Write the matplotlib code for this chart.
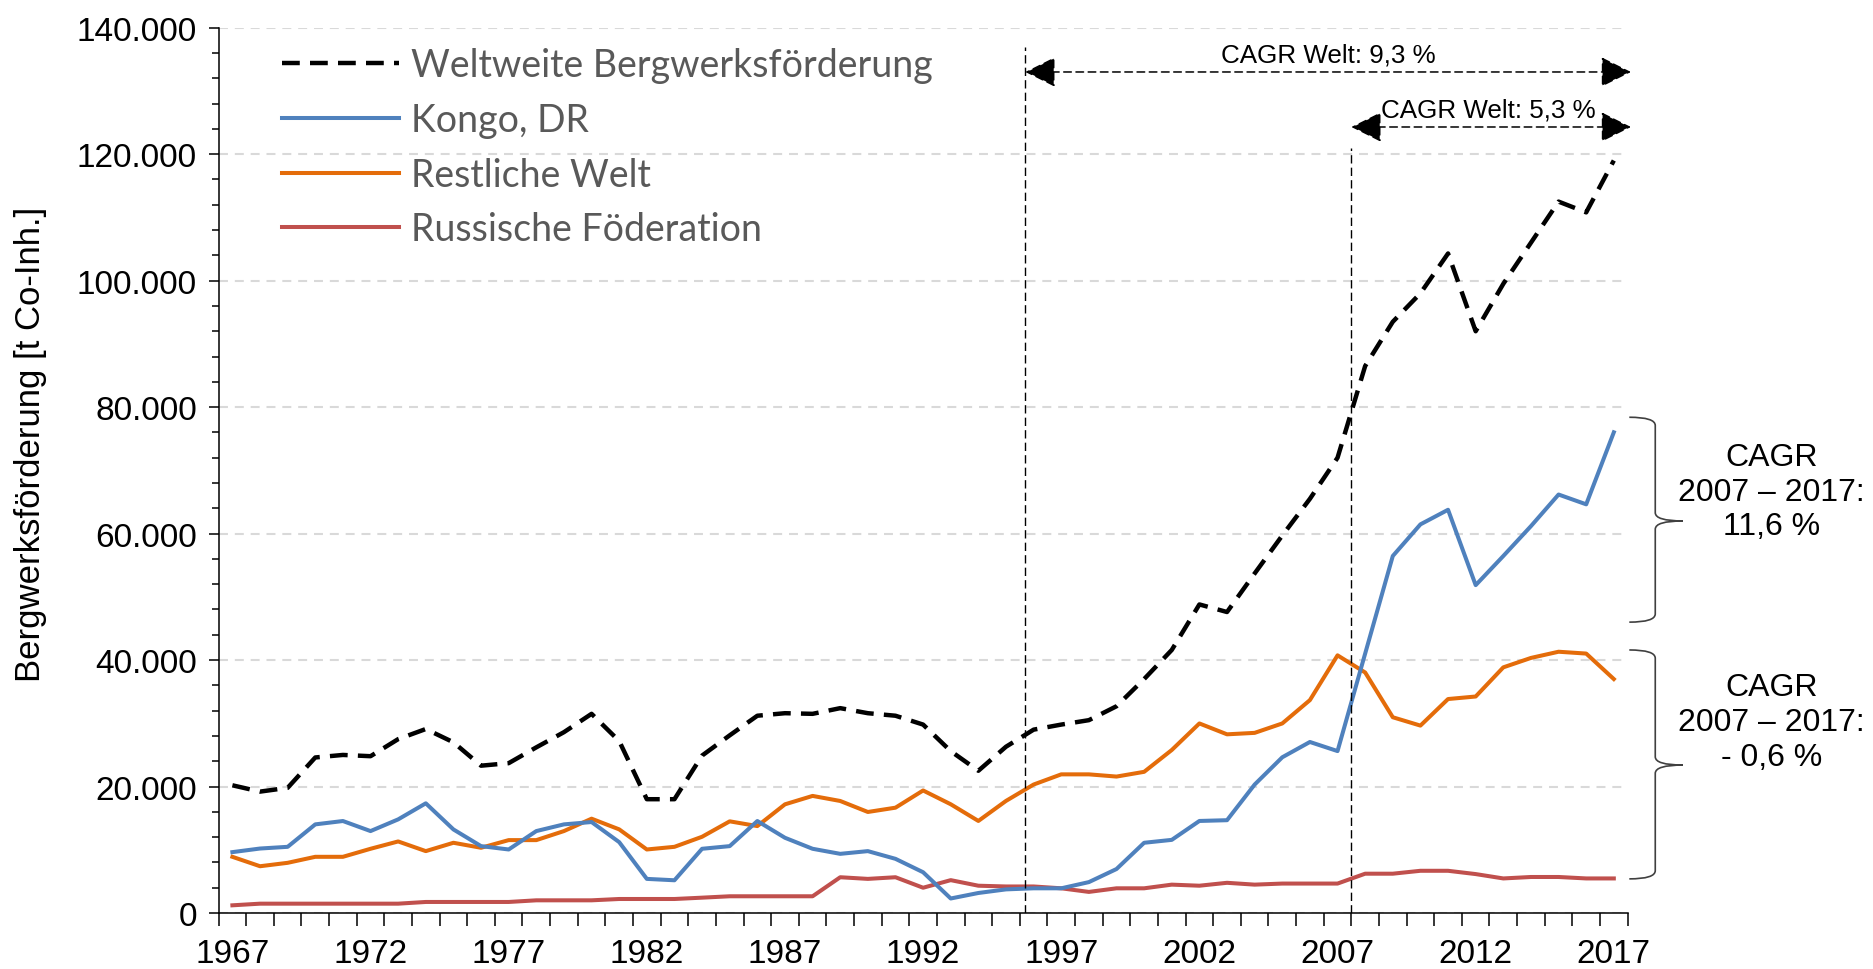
import matplotlib
matplotlib.use("Agg")
import matplotlib.pyplot as plt
import numpy as np
from matplotlib.path import Path
from matplotlib.patches import PathPatch
from matplotlib.ticker import FuncFormatter, MultipleLocator, FixedLocator

# ---------------- data ----------------
years = list(range(1967, 2018))

welt = [20200, 19200, 19800, 24600, 25000, 24800, 27500, 29100, 27000, 23300,
        23700, 26200, 28600, 31500, 27200, 18000, 18000, 24900, 28100, 31200,
        31600, 31500, 32400, 31600, 31200, 29800, 25600, 22500, 26300, 29000,
        29800, 30500, 32700, 37000, 41600, 48800, 47600, 53700, 59700, 65500,
        72000, 86500, 93500, 98000, 104300, 92000, 99500, 106000, 112500, 110800,
        119000]

kongo = [9630, 10200, 10470, 14020, 14550, 12960, 14810, 17350, 13220, 10580,
         10050, 12960, 14020, 14390, 11210, 5400, 5180, 10160, 10580, 14550,
         11900, 10160, 9360, 9790, 8570, 6450, 2300, 3170, 3740, 3910,
         3910, 4890, 6960, 11110, 11570, 14560, 14680, 20320, 24630, 27050,
         25610, 41030, 56460, 61460, 63770, 51850, 56460, 61180, 66180, 64630,
         76020]

rest = [8890, 7400, 7940, 8890, 8890, 10160, 11320, 9790, 11110, 10320,
        11530, 11530, 12960, 14920, 13230, 10050, 10470, 12060, 14500, 13750,
        17190, 18520, 17720, 15980, 16660, 19380, 17200, 14560, 17730, 20320,
        21930, 21930, 21580, 22330, 25780, 29980, 28260, 28490, 29980, 33670,
        40750, 38040, 30960, 29640, 33840, 34240, 38850, 40340, 41320, 41030,
        37000]

russland = [1220, 1480, 1480, 1480, 1480, 1480, 1480, 1750, 1750, 1750,
            1750, 2010, 2010, 2010, 2220, 2220, 2220, 2430, 2650, 2650,
            2650, 2650, 5660, 5400, 5660, 4000, 5200, 4320, 4200, 4200,
            3910, 3340, 3910, 3910, 4490, 4320, 4780, 4490, 4660, 4660,
            4660, 6220, 6220, 6680, 6680, 6160, 5470, 5700, 5700, 5470,
            5470]

labels = ["Weltweite Bergwerksförderung", "Kongo, DR", "Restliche Welt",
          "Russische Föderation"]
tick_years = [1967, 1972, 1977, 1982, 1987, 1992, 1997, 2002, 2007, 2012, 2017]

# ---------------- figure ----------------
plt.rcParams["font.family"] = ["Liberation Sans", "DejaVu Sans"]
fig = plt.figure(figsize=(18.73, 9.70), dpi=100)
ax = fig.add_axes([0.1167, 0.0577, 0.7523, 0.9127])

x = np.arange(len(years))
l_w, = ax.plot(x, welt, color="black", lw=3.2, ls=(0, (4.0, 2.3)), zorder=5,
               label=labels[0])
l_k, = ax.plot(x, kongo, color="#4F81BD", lw=2.9, zorder=4,
               solid_joinstyle="round", label=labels[1])
l_r, = ax.plot(x, rest, color="#E46C0A", lw=2.9, zorder=3,
               solid_joinstyle="round", label=labels[2])
l_ru, = ax.plot(x, russland, color="#C0504D", lw=2.9, zorder=2,
                solid_joinstyle="round", label=labels[3])

ax.set_xlim(-0.5, len(years) - 0.5)
ax.set_ylim(0, 140000)

# axes styling
for s in ("top", "right"):
    ax.spines[s].set_visible(False)
for s in ("left", "bottom"):
    ax.spines[s].set_color("black")
    ax.spines[s].set_linewidth(1.1)

ax.yaxis.set_major_locator(MultipleLocator(20000))
ax.yaxis.set_minor_locator(MultipleLocator(4000))
ax.yaxis.set_major_formatter(
    FuncFormatter(lambda v, p: "{:,.0f}".format(v).replace(",", ".")))
ax.tick_params(axis="y", which="major", length=7.5, width=1.1, pad=8,
               labelsize=24, direction="out")
ax.tick_params(axis="y", which="minor", length=5, width=1.1, direction="out")

ax.xaxis.set_major_locator(FixedLocator([years.index(y) for y in tick_years]))
ax.set_xticklabels([str(y) for y in tick_years])
ax.xaxis.set_minor_locator(FixedLocator(np.arange(-0.5, len(years), 1.0)))
ax.tick_params(axis="x", which="major", length=0, pad=18, labelsize=24)
ax.tick_params(axis="x", which="minor", length=9, width=1.1, direction="out")

ax.yaxis.grid(True, which="major", color="#D9D9D9", ls=(0, (4.3, 3.3)), lw=1.5)
ax.set_axisbelow(True)

ax.set_ylabel("Bergwerksförderung [t Co-Inh.]", fontsize=25)
ax.yaxis.set_label_coords(-0.1215, 0.531)

leg = ax.legend(handles=[l_w, l_k, l_r, l_ru], loc="upper left",
                bbox_to_anchor=(0.045, 0.978), borderaxespad=0, borderpad=0,
                frameon=False, handlelength=3.12, handletextpad=0.32,
                labelspacing=0.5,
                prop={"family": ["Lato", "DejaVu Sans"], "size": 27})
for t in leg.get_texts():
    t.set_color("#595959")

# ---------------- annotations ----------------
x_line1, x_line2, x_end = 28.7, 40.5, 50.62
ax.plot([x_line1, x_line1], [0, 137000], color="black", lw=1.0,
        ls=(0, (6, 3)), zorder=6)
ax.plot([x_line2, x_line2], [0, 121000], color="black", lw=1.0,
        ls=(0, (6, 3)), zorder=6)

arrow_kw = dict(arrowstyle="<|-|>,head_length=0.4,head_width=0.2",
                mutation_scale=48, lw=1.1, ls=(0, (5, 3)), color="black",
                shrinkA=0, shrinkB=0)
ax.annotate("", xy=(x_end, 133000), xytext=(x_line1, 133000),
            arrowprops=arrow_kw, annotation_clip=False, zorder=7)
ax.annotate("", xy=(x_end, 124300), xytext=(x_line2, 124300),
            arrowprops=arrow_kw, annotation_clip=False, zorder=7)
ax.text(39.68, 134600, "CAGR Welt: 9,3 %", ha="center", va="baseline",
        fontsize=18.7, zorder=8)
ax.text(45.47, 126000, "CAGR Welt: 5,3 %", ha="center", va="baseline",
        fontsize=18.7, zorder=8)


def brace(y_top, y_mid, y_bot, xl=50.56, xv=51.5, xt=52.5, r=1300):
    verts = [(xl, y_top), (xv, y_top), (xv, y_top - r),
             (xv, y_mid + r),
             (xv, y_mid), (xt, y_mid),
             (xv, y_mid), (xv, y_mid - r),
             (xv, y_bot + r),
             (xv, y_bot), (xl, y_bot)]
    codes = [Path.MOVETO, Path.CURVE3, Path.CURVE3,
             Path.LINETO,
             Path.CURVE3, Path.CURVE3,
             Path.CURVE3, Path.CURVE3,
             Path.LINETO,
             Path.CURVE3, Path.CURVE3]
    p = PathPatch(Path(verts, codes), fill=False, edgecolor="#404040",
                  lw=1.2, clip_on=False, zorder=6)
    ax.add_patch(p)


brace(78400, 62000, 46000)
brace(41600, 23400, 5400)

ax.text(55.7, 66600, "CAGR\n2007 – 2017:\n11,6 %", ha="center", va="center",
        fontsize=23, linespacing=1.2, clip_on=False)
ax.text(55.7, 30200, "CAGR\n2007 – 2017:\n- 0,6 %", ha="center", va="center",
        fontsize=23, linespacing=1.2, clip_on=False)

fig.savefig("out.png", dpi=100)
